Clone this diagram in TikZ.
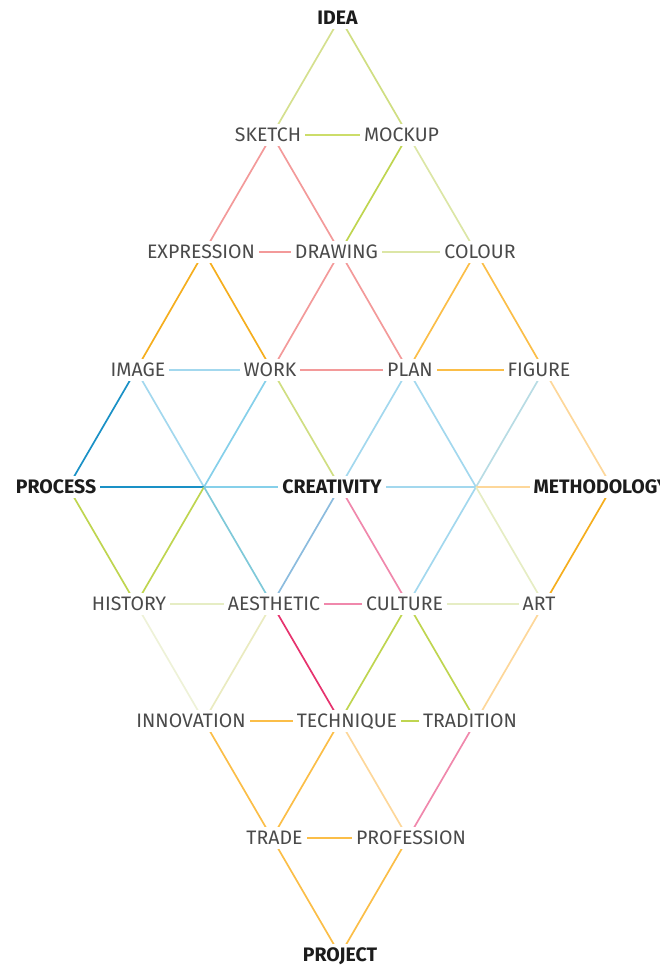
\documentclass[tikz,border=0pt]{standalone}
\usepackage{fontspec}
\setmainfont{Fira Sans}
\definecolor{txt}{HTML}{4A4A4A}
\definecolor{keytxt}{HTML}{1C1C1C}
\definecolor{ygA}{HTML}{D5E08F}
\definecolor{ygB}{HTML}{D0DE82}
\definecolor{ygC}{HTML}{CCDD6A}
\definecolor{ygD}{HTML}{BFD550}
\definecolor{ygL}{HTML}{DCE6A6}
\definecolor{paleA}{HTML}{E6EDC4}
\definecolor{paleB}{HTML}{EEF2D8}
\definecolor{paleC}{HTML}{EAEBC0}
\definecolor{salmon}{HTML}{F39A9A}
\definecolor{orD}{HTML}{F5AE1E}
\definecolor{orM}{HTML}{FBBE48}
\definecolor{orL}{HTML}{FDD79A}
\definecolor{blueD}{HTML}{1A91C6}
\definecolor{blueL}{HTML}{A3D8EE}
\definecolor{blueM}{HTML}{86D0EA}
\definecolor{teal}{HTML}{7FC9D9}
\definecolor{steel}{HTML}{8CBCDE}
\definecolor{greyblue}{HTML}{B8DCE4}
\definecolor{pink}{HTML}{F088AC}
\definecolor{magenta}{HTML}{E6336E}
\begin{document}
\begin{tikzpicture}[x=1pt,y=-1pt,
  lbl/.style={fill=white, inner xsep=4pt, inner ysep=4pt, text height=13.4pt, text depth=0pt,
    text=txt, font=\fontsize{19.5}{20}\selectfont},
  keylbl/.style={lbl, text=keytxt, font=\fontsize{19.5}{20}\selectfont\bfseries},
  edge/.style={line width=1.7pt}]
\useasboundingbox (0,0) rectangle (659,965);
% lattice vertices
\coordinate (v-idea) at (340,18);
\coordinate (v-sketch) at (272,135);
\coordinate (v-mockup) at (408,135);
\coordinate (v-expression) at (204,252);
\coordinate (v-drawing) at (340,252);
\coordinate (v-colour) at (476,252);
\coordinate (v-image) at (136,370);
\coordinate (v-work) at (272,370);
\coordinate (v-plan) at (408,370);
\coordinate (v-figure) at (544,370);
\coordinate (v-process) at (68,487);
\coordinate (j1) at (204,487);
\coordinate (v-creativity) at (340,487);
\coordinate (j2) at (476,487);
\coordinate (v-methodology) at (612,487);
\coordinate (v-history) at (136,604);
\coordinate (v-aesthetic) at (272,604);
\coordinate (v-culture) at (408,604);
\coordinate (v-art) at (544,604);
\coordinate (v-innovation) at (204,721);
\coordinate (v-technique) at (340,721);
\coordinate (v-tradition) at (476,721);
\coordinate (v-trade) at (272,838);
\coordinate (v-profession) at (408,838);
\coordinate (v-project) at (340,955);
% edges
\draw[edge,ygA] (v-idea) -- (v-sketch);
\draw[edge,ygB] (v-idea) -- (v-mockup);
\draw[edge,ygC] (v-sketch) -- (v-mockup);
\draw[edge,salmon] (v-sketch) -- (v-expression);
\draw[edge,salmon] (v-sketch) -- (v-drawing);
\draw[edge,ygD] (v-mockup) -- (v-drawing);
\draw[edge,ygL] (v-mockup) -- (v-colour);
\draw[edge,salmon] (v-expression) -- (v-drawing);
\draw[edge,ygL] (v-drawing) -- (v-colour);
\draw[edge,orD] (v-expression) -- (v-image);
\draw[edge,orD] (v-expression) -- (v-work);
\draw[edge,salmon] (v-drawing) -- (v-work);
\draw[edge,salmon] (v-drawing) -- (v-plan);
\draw[edge,orM] (v-colour) -- (v-plan);
\draw[edge,orM] (v-colour) -- (v-figure);
\draw[edge,blueL] (v-image) -- (v-work);
\draw[edge,salmon] (v-work) -- (v-plan);
\draw[edge,orM] (v-plan) -- (v-figure);
\draw[edge,blueD] (v-image) -- (v-process);
\draw[edge,blueL] (v-image) -- (j1);
\draw[edge,blueM] (v-work) -- (j1);
\draw[edge,ygB] (v-work) -- (v-creativity);
\draw[edge,blueL] (v-plan) -- (v-creativity);
\draw[edge,blueL] (v-plan) -- (j2);
\draw[edge,greyblue] (v-figure) -- (j2);
\draw[edge,orL] (v-figure) -- (v-methodology);
\draw[edge,blueD] (v-process) -- (j1);
\draw[edge,blueM] (j1) -- (v-creativity);
\draw[edge,blueL] (v-creativity) -- (j2);
\draw[edge,orL] (j2) -- (v-methodology);
\draw[edge,ygD] (v-process) -- (v-history);
\draw[edge,ygD] (j1) -- (v-history);
\draw[edge,teal] (j1) -- (v-aesthetic);
\draw[edge,steel] (v-creativity) -- (v-aesthetic);
\draw[edge,pink] (v-creativity) -- (v-culture);
\draw[edge,blueL] (j2) -- (v-culture);
\draw[edge,paleA] (j2) -- (v-art);
\draw[edge,orD] (v-methodology) -- (v-art);
\draw[edge,paleA] (v-history) -- (v-aesthetic);
\draw[edge,pink] (v-aesthetic) -- (v-culture);
\draw[edge,paleA] (v-culture) -- (v-art);
\draw[edge,paleB] (v-history) -- (v-innovation);
\draw[edge,paleC] (v-aesthetic) -- (v-innovation);
\draw[edge,magenta] (v-aesthetic) -- (v-technique);
\draw[edge,ygD] (v-culture) -- (v-technique);
\draw[edge,ygD] (v-culture) -- (v-tradition);
\draw[edge,orL] (v-art) -- (v-tradition);
\draw[edge,orM] (v-innovation) -- (v-technique);
\draw[edge,ygD] (v-technique) -- (v-tradition);
\draw[edge,orM] (v-innovation) -- (v-trade);
\draw[edge,orM] (v-technique) -- (v-trade);
\draw[edge,orL] (v-technique) -- (v-profession);
\draw[edge,pink] (v-tradition) -- (v-profession);
\draw[edge,orM] (v-trade) -- (v-profession);
\draw[edge,orM] (v-trade) -- (v-project);
\draw[edge,orM] (v-profession) -- (v-project);
% labels
\node[keylbl] (idea) at (337.5,18) {IDEA};
\node[lbl] (sketch) at (268,135) {SKETCH};
\node[lbl] (mockup) at (401.5,135) {MOCKUP};
\node[lbl] (expression) at (201,252) {EXPRESSION};
\node[lbl] (drawing) at (336.5,252) {DRAWING};
\node[lbl] (colour) at (480,252) {COLOUR};
\node[lbl] (image) at (138,370) {IMAGE};
\node[lbl] (work) at (270,370) {WORK};
\node[lbl] (plan) at (410,370) {PLAN};
\node[lbl] (figure) at (539,370) {FIGURE};
\node[keylbl] (process) at (56,487) {PROCESS};
\node[keylbl] (creativity) at (332,487) {CREATIVITY};
\node[keylbl] (methodology) at (601,487) {METHODOLOGY};
\node[lbl] (history) at (129,604) {HISTORY};
\node[lbl] (aesthetic) at (274,604) {AESTHETIC};
\node[lbl] (culture) at (404.5,604) {CULTURE};
\node[lbl] (art) at (539,604) {ART};
\node[lbl] (innovation) at (191,721) {INNOVATION};
\node[lbl] (technique) at (347,721) {TECHNIQUE};
\node[lbl] (tradition) at (470,721) {TRADITION};
\node[lbl] (trade) at (274.5,838) {TRADE};
\node[lbl] (profession) at (411,838) {PROFESSION};
\node[keylbl] (project) at (340,955) {PROJECT};
\end{tikzpicture}
\end{document}
